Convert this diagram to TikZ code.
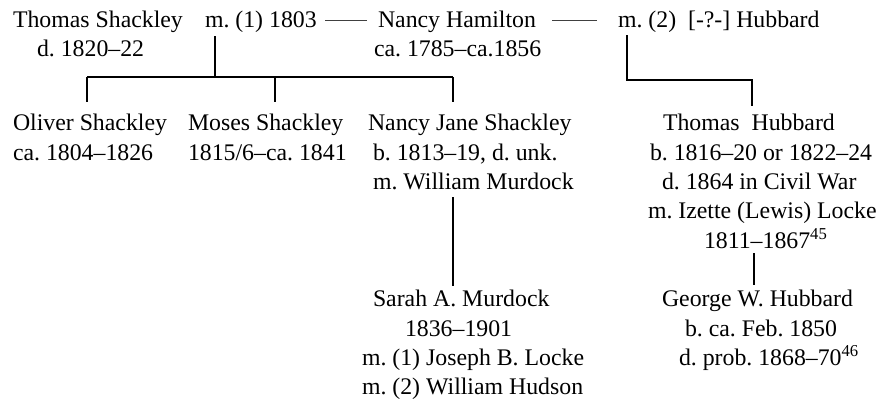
\documentclass[tikz,border=0pt]{standalone}
\usepackage{fontspec}
\setmainfont{Liberation Serif}
\frenchspacing
\begin{document}
\begin{tikzpicture}[x=1bp,y=-1bp,
  txt/.style={anchor=base west,inner sep=0pt,outer sep=0pt,font=\fontsize{23.8bp}{28bp}\selectfont\frenchspacing},
  link/.style={line width=1.3bp,black},
  dashlink/.style={line width=0.9bp,black!75}]
\useasboundingbox (0,0) rectangle (881,400);
% Row A
\node[txt] (ts1) at (13,27) {Thomas Shackley};
\node[txt] (ts2) at (37,56.5) {d. 1820–22};
\node[txt] (m1) at (205,27) {m. (1) 1803};
\node[txt] (nh1) at (378,27) {Nancy Hamilton};
\node[txt] (nh2) at (374,56.5) {ca. 1785–ca.1856};
\node[txt] (m2) at (618,27) {m. (2)\ \ [-?-] Hubbard};
% Row B
\node[txt] (os1) at (13,130.7) {Oliver Shackley};
\node[txt] (os2) at (13,160) {ca. 1804–1826};
\node[txt] (ms1) at (188,130.7) {Moses Shackley};
\node[txt] (ms2) at (188,160) {1815/6–ca. 1841};
\node[txt] (nj1) at (368,130.7) {Nancy Jane Shackley};
\node[txt] (nj2) at (373,160) {b. 1813–19, d. unk.};
\node[txt] (nj3) at (373,189.3) {m. William Murdock};
\node[txt] (th1) at (663,130.7) {Thomas\ \ Hubbard};
\node[txt] (th2) at (650,160) {b. 1816–20 or 1822–24};
\node[txt] (th3) at (662,189.3) {d. 1864 in Civil War};
\node[txt] (th4) at (648,218.6) {m. Izette (Lewis) Locke};
\node[txt] (th5) at (704,248) {1811–1867\textsuperscript{45}};
% Row C
\node[txt] (sm1) at (373,306.7) {Sarah A. Murdock};
\node[txt] (sm2) at (405,336) {1836–1901};
\node[txt] (sm3) at (362,365.3) {m. (1) Joseph B. Locke};
\node[txt] (sm4) at (362,394.6) {m. (2) William Hudson};
\node[txt] (gh1) at (662,306.7) {George W. Hubbard};
\node[txt] (gh2) at (685,336) {b. ca. Feb. 1850};
\node[txt] (gh3) at (679,365) {d. prob. 1868–70\textsuperscript{46}};
% connector points
\coordinate (d1a) at (325,20); \coordinate (d1b) at (367,20);
\coordinate (d2a) at (552,20); \coordinate (d2b) at (597,20);
\coordinate (c1top) at (215,36); \coordinate (c1mid) at (215,77);
\coordinate (bl) at (87,77); \coordinate (bm) at (275,77); \coordinate (br) at (453,77);
\coordinate (os0) at (87,102); \coordinate (ms0) at (275,102); \coordinate (nj0) at (453,102);
\coordinate (c2top) at (627,35); \coordinate (c2a) at (627,80); \coordinate (c2b) at (752,80);
\coordinate (th0) at (752,106);
\coordinate (nja) at (453,197); \coordinate (sm0) at (453,286);
\coordinate (tha) at (754,253); \coordinate (gh0) at (754,285);
% connectors
\draw[dashlink] (d1a) -- (d1b);
\draw[dashlink] (d2a) -- (d2b);
\draw[link] (c1top) -- (c1mid);
\draw[link] (bl) -- (br);
\draw[link] (bl) -- (os0);
\draw[link] (bm) -- (ms0);
\draw[link] (br) -- (nj0);
\draw[link] (c2top) -- (c2a) -- (c2b) -- (th0);
\draw[link] (nja) -- (sm0);
\draw[link] (tha) -- (gh0);
\end{tikzpicture}
\end{document}
